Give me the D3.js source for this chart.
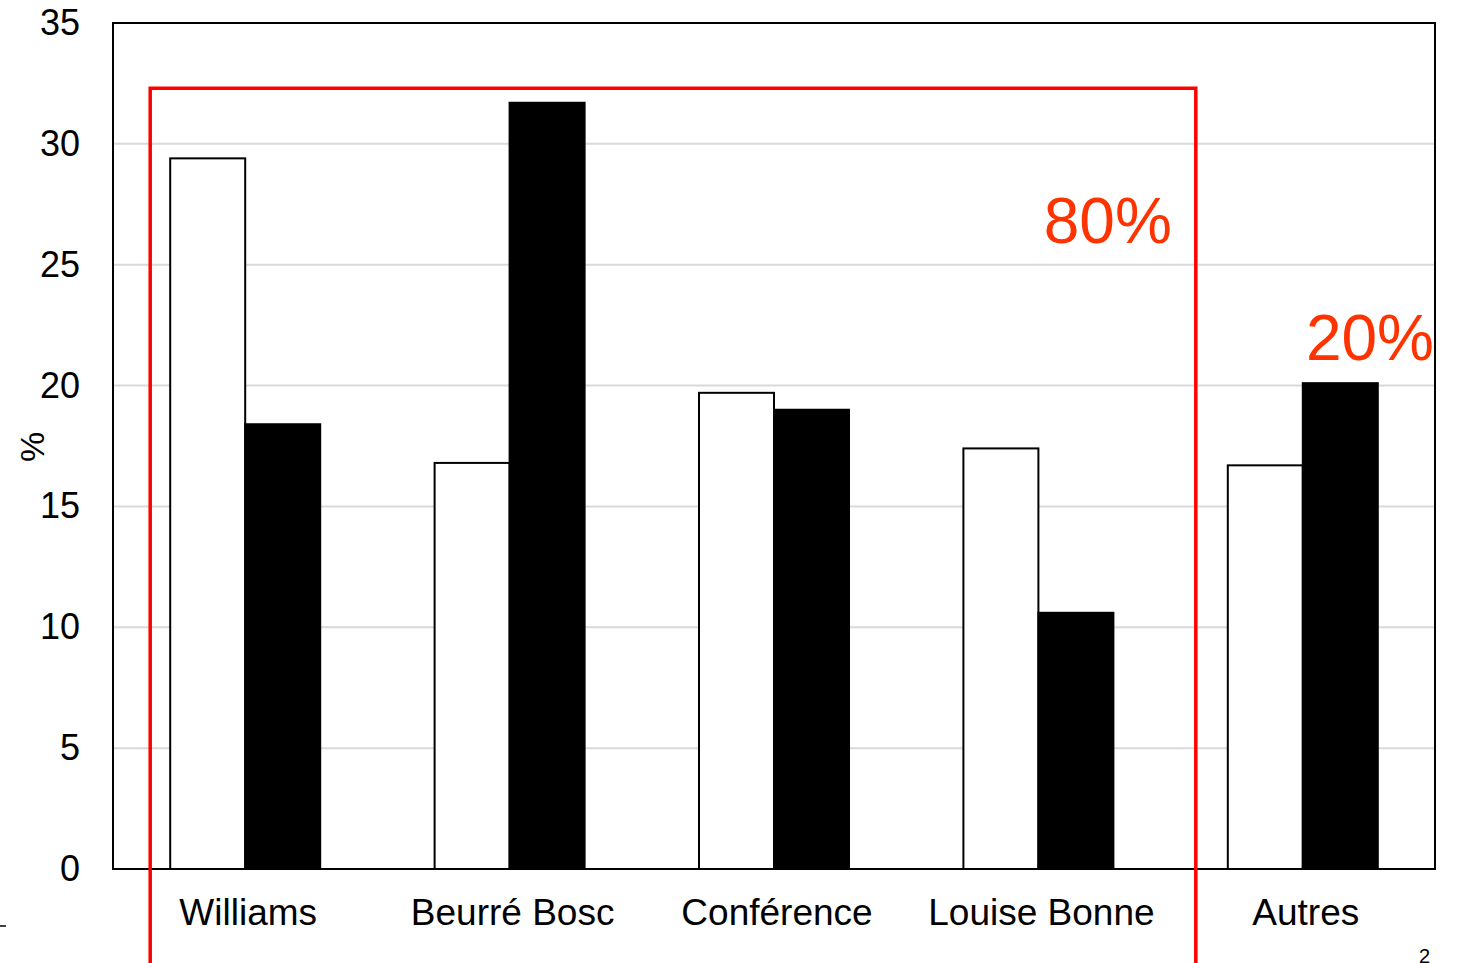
<html>
<head>
<meta charset="utf-8">
<title>poires</title>
<style>
  body { margin: 0; background: #fff; }
  text { font-family: "Liberation Sans", Arial, sans-serif; }
</style>
</head>
<body>
<script src="https://d3js.org/d3.v7.min.js"></script>
<script>
// categories and the two series (white / black bars)
var categories = ['Williams', 'Beurré Bosc', 'Conférence', 'Louise Bonne', 'Autres']
var seriesWhite = [29.4, 16.8, 19.7, 17.4, 16.7]
var seriesBlack = [18.4, 31.7, 19.0, 10.6, 20.1]
var yTicks = [0, 5, 10, 15, 20, 25, 30, 35]

var width = 1458
var height = 963
var padding = {left: 113, right: 23, top: 23, bottom: 94}

var svg = d3.select('body')
    .append('svg')
    .attr('width', width)
    .attr('height', height)

// scales
var xScale = d3.scaleBand()
    .domain(categories)
    .range([padding.left, width - padding.right])
    .paddingInner(0.4327)
    .paddingOuter(0.4327 / 2)

var xSub = d3.scaleBand()
    .domain(['white', 'black'])
    .range([0, xScale.bandwidth()])

var yScale = d3.scaleLinear()
    .domain([0, 35])
    .range([height - padding.bottom, padding.top])

// gridlines
svg.append('g')
    .selectAll('line')
    .data(yTicks.slice(1, -1))
    .enter()
    .append('line')
    .attr('x1', padding.left)
    .attr('x2', width - padding.right)
    .attr('y1', function(d){ return yScale(d) })
    .attr('y2', function(d){ return yScale(d) })
    .attr('stroke', '#d9d9d9')
    .attr('stroke-width', 2)

// y axis tick labels
var yAxis = d3.axisLeft(yScale)
    .tickValues(yTicks)
    .tickSize(0)
    .tickPadding(33)
var gy = svg.append('g')
    .attr('transform', 'translate(' + padding.left + ',0)')
    .call(yAxis)
gy.select('.domain').remove()
gy.selectAll('text')
    .attr('font-size', 36)
    .attr('fill', '#000')
    .style('font-family', '"Liberation Sans", Arial, sans-serif')

// x axis labels
var xAxis = d3.axisBottom(xScale).tickSize(0).tickPadding(30)
var gx = svg.append('g')
    .attr('transform', 'translate(0,' + (height - padding.bottom) + ')')
    .call(xAxis)
gx.select('.domain').remove()
gx.selectAll('text')
    .attr('font-size', 37)
    .attr('dx', 3)
    .attr('fill', '#000')
    .style('font-family', '"Liberation Sans", Arial, sans-serif')

// bars
var rows = categories.map(function(c, i){
    return {cat: c, white: seriesWhite[i], black: seriesBlack[i]}
})
var groups = svg.append('g')
    .selectAll('g')
    .data(rows)
    .enter()
    .append('g')
    .attr('transform', function(d){ return 'translate(' + xScale(d.cat) + ',0)' })

groups.selectAll('rect')
    .data(function(d){ return [{k: 'white', v: d.white}, {k: 'black', v: d.black}] })
    .enter()
    .append('rect')
    .attr('x', function(d){ return xSub(d.k) })
    .attr('width', xSub.bandwidth())
    .attr('y', function(d){ return yScale(d.v) })
    .attr('height', function(d){ return yScale(0) - yScale(d.v) })
    .attr('fill', function(d){ return d.k == 'white' ? '#fff' : '#000' })
    .attr('stroke', '#000')
    .attr('stroke-width', 2)

// plot frame
svg.append('rect')
    .attr('x', padding.left)
    .attr('y', padding.top)
    .attr('width', width - padding.left - padding.right)
    .attr('height', height - padding.top - padding.bottom)
    .attr('fill', 'none')
    .attr('stroke', '#000')
    .attr('stroke-width', 2)

// y title
svg.append('text')
    .attr('transform', 'translate(44,447) rotate(-90)')
    .attr('text-anchor', 'middle')
    .attr('font-size', 34)
    .text('%')

// red 80% box (open at the bottom)
var boxLeft = xScale('Williams') - 20
var boxRight = xScale('Autres') - 32
var boxTop = yScale(32.3)
svg.append('path')
    .attr('d', 'M' + boxLeft + ',' + height + 'V' + boxTop + 'H' + boxRight + 'V' + height)
    .attr('fill', 'none')
    .attr('stroke', '#ff0000')
    .attr('stroke-width', 3.5)

svg.append('text')
    .attr('x', boxRight - 24)
    .attr('y', yScale(25.9))
    .attr('text-anchor', 'end')
    .attr('font-size', 64)
    .attr('fill', '#ff3300')
    .text('80%')

svg.append('text')
    .attr('x', width - padding.right - 1)
    .attr('y', yScale(21.06))
    .attr('text-anchor', 'end')
    .attr('font-size', 64)
    .attr('fill', '#ff3300')
    .text('20%')

// slide leftovers
svg.append('line')
    .attr('x1', 0).attr('x2', 6)
    .attr('y1', 926).attr('y2', 926)
    .attr('stroke', '#000')
    .attr('stroke-width', 1.5)
svg.append('text')
    .attr('x', 1430)
    .attr('y', 963)
    .attr('text-anchor', 'end')
    .attr('font-size', 20)
    .text('2')
</script>
</body>
</html>
